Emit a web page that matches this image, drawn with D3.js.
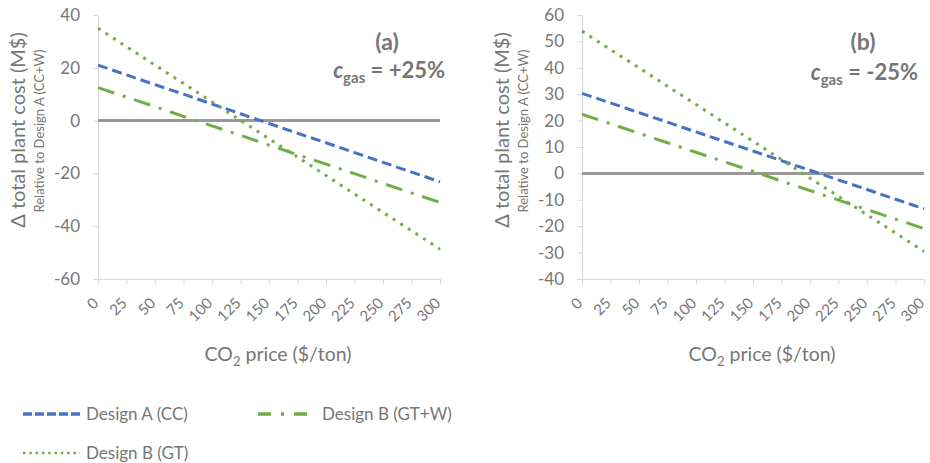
<!DOCTYPE html>
<html>
<head>
<meta charset="utf-8">
<script src="https://cdn.jsdelivr.net/npm/d3@7"></script>
<style>
  body { margin: 0; background: #fff; }
  svg { font-family: Lato, "Open Sans", sans-serif; }
</style>
</head>
<body>
<div id="chart"></div>
<script>
// x categories (CO2 price, $/ton)
const co2Price = [0, 25, 50, 75, 100, 125, 150, 175, 200, 225, 250, 275, 300];

// panel (a): c_gas = +25%
const aDesignA_CC  = [21.0, 17.3, 13.6, 10.0, 6.3, 2.6, -1.1, -4.8, -8.4, -12.1, -15.8, -19.5, -23.2];
const aDesignB_GTW = [12.5, 8.9, 5.3, 1.6, -2.0, -5.6, -9.3, -12.9, -16.5, -20.1, -23.8, -27.4, -31.0];
const aDesignB_GT  = [35.0, 28.0, 21.0, 14.1, 7.1, 0.1, -6.9, -13.8, -20.8, -27.8, -34.8, -41.7, -48.7];
const aYTicks = [-60, -40, -20, 0, 20, 40];

// panel (b): c_gas = -25%
const bDesignA_CC  = [30.3, 26.7, 23.0, 19.4, 15.7, 12.1, 8.5, 4.8, 1.2, -2.5, -6.1, -9.8, -13.4];
const bDesignB_GTW = [22.4, 18.8, 15.2, 11.6, 8.0, 4.4, 0.8, -2.9, -6.5, -10.1, -13.7, -17.3, -20.9];
const bDesignB_GT  = [53.9, 46.9, 40.0, 33.0, 26.1, 19.1, 12.2, 5.2, -1.8, -8.7, -15.7, -22.6, -29.6];
const bYTicks = [-40, -30, -20, -10, 0, 10, 20, 30, 40, 50, 60];

const seriesNames = ["Design A (CC)", "Design B (GT+W)", "Design B (GT)"];

const blue = "#4472c4", green = "#70ad47", textGray = "#767676";
const styles = [
    { color: blue,  width: 3,   dash: "10,5", legendDash: "9,3" },
    { color: green, width: 3,   dash: "17,9,3,9", legendDash: "13,10,3,10" },
    { color: green, width: 3,   dash: "3,6", legendDash: "2.5,3.8" }
];

const svg = d3.select("#chart")
    .append("svg")
    .attr("width", 930)
    .attr("height", 463);

svg.append("rect").attr("width", 930).attr("height", 463).attr("fill", "#fff");

function drawPanel(opt) {
    const g = svg.append("g").attr("transform", `translate(${opt.left}, 15)`);
    const w = opt.width, h = 264;

    const x = d3.scalePoint().domain(co2Price).range([0, w]);
    const y = d3.scaleLinear().domain(opt.yDomain).range([h, 0]);

    // y axis (plain hyphen for negatives, like the original)
    const yAxis = g.append("g")
        .call(d3.axisLeft(y).tickValues(opt.yTicks).tickFormat(d => String(d))
            .tickSize(5).tickPadding(13).tickSizeOuter(0));
    yAxis.select(".domain").attr("stroke", "#d9d9d9");
    yAxis.selectAll(".tick line").attr("stroke", "#d9d9d9");
    yAxis.selectAll("text")
        .attr("fill", textGray)
        .style("font-size", "17px")
        .style("font-family", "Lato");

    // x axis
    const xAxis = g.append("g")
        .attr("transform", `translate(0, ${h})`)
        .call(d3.axisBottom(x).tickSize(5).tickSizeOuter(0));
    xAxis.select(".domain").attr("stroke", "#d9d9d9");
    xAxis.selectAll(".tick line").attr("stroke", "#d9d9d9");
    xAxis.selectAll("text")
        .attr("fill", textGray)
        .style("font-size", "15px")
        .style("font-family", "Lato")
        .attr("x", 0).attr("y", 0).attr("dy", null)
        .attr("text-anchor", "end")
        .attr("transform", "translate(1, 25) rotate(-45)");

    // zero line
    g.append("line")
        .attr("x1", 0).attr("x2", w)
        .attr("y1", y(0)).attr("y2", y(0))
        .attr("stroke", "#999")
        .attr("stroke-width", 3);

    const line = d3.line()
        .x((d, i) => x(co2Price[i]))
        .y(d => y(d));

    opt.series.forEach(function (s, i) {
        g.append("path")
            .datum(s)
            .attr("fill", "none")
            .attr("stroke", styles[i].color)
            .attr("stroke-width", styles[i].width)
            .attr("stroke-dasharray", styles[i].dash)
            .attr("d", line);
    });

    // axis titles
    svg.append("text")
        .attr("transform", `translate(${opt.titleX}, 130) rotate(-90)`)
        .attr("text-anchor", "middle")
        .attr("dy", "0.35em")
        .attr("fill", textGray)
        .style("font-size", "20px")
        .text("\u0394 total plant cost (M$)");
    svg.append("text")
        .attr("transform", `translate(${opt.titleX + 21}, 131) rotate(-90)`)
        .attr("text-anchor", "middle")
        .attr("dy", "0.35em")
        .attr("fill", textGray)
        .style("font-size", "13px")
        .text("Relative to Design A (CC+W)");

    const xt = svg.append("text")
        .attr("x", opt.left + w / 2 + 9)
        .attr("y", 361)
        .attr("text-anchor", "middle")
        .attr("fill", textGray)
        .style("font-size", "19.5px");
    xt.append("tspan").text("CO");
    xt.append("tspan").attr("dy", 5).style("font-size", "13px").text("2");
    xt.append("tspan").attr("dy", -5).text(" price ($/ton)");

    // panel label
    svg.append("text")
        .attr("x", opt.labelX)
        .attr("y", 50)
        .attr("text-anchor", "middle")
        .attr("fill", textGray)
        .style("font-size", "23px")
        .style("font-weight", "bold")
        .text(opt.label);
    const ct = svg.append("text")
        .attr("x", opt.gasX)
        .attr("y", opt.gasY)
        .attr("text-anchor", "end")
        .attr("fill", textGray)
        .style("font-size", "22px")
        .style("font-weight", "bold");
    ct.append("tspan").style("font-style", "italic").text("c");
    ct.append("tspan").attr("dy", 5).style("font-size", "15px").text("gas");
    ct.append("tspan").attr("dy", -5).text(" = " + opt.gasText);
}

drawPanel({
    left: 98, width: 342, yDomain: [-60, 40], yTicks: aYTicks,
    series: [aDesignA_CC, aDesignB_GTW, aDesignB_GT],
    titleX: 18, label: "(a)", labelX: 387, gasX: 445, gasY: 78, gasText: "+25%"
});
drawPanel({
    left: 582, width: 342, yDomain: [-40, 60], yTicks: bYTicks,
    series: [bDesignA_CC, bDesignB_GTW, bDesignB_GT],
    titleX: 502, label: "(b)", labelX: 863, gasX: 918, gasY: 80, gasText: "-25%"
});

// legend
const legendPos = [[23, 414], [258, 414], [23, 453]];
const legend = svg.append("g");
seriesNames.forEach(function (name, i) {
    const [lx, ly] = legendPos[i];
    const len = i === 1 ? 49 : 57;
    legend.append("line")
        .attr("x1", lx).attr("x2", lx + len)
        .attr("y1", ly).attr("y2", ly)
        .attr("stroke", styles[i].color)
        .attr("stroke-width", i === 2 ? 2.5 : 3.5)
        .attr("stroke-dasharray", styles[i].legendDash);
    legend.append("text")
        .attr("x", lx + len + (i === 1 ? 15 : 6))
        .attr("y", ly)
        .attr("dy", "0.35em")
        .attr("fill", textGray)
        .style("font-size", "17px")
        .text(name);
});
</script>
</body>
</html>
